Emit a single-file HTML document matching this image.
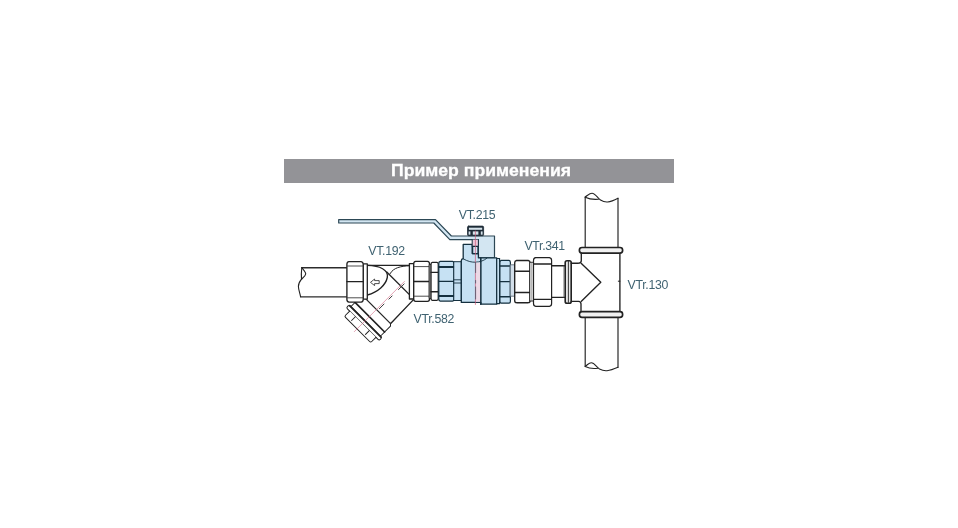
<!DOCTYPE html>
<html lang="ru">
<head>
<meta charset="utf-8">
<title>Пример применения</title>
<style>
html,body{margin:0;padding:0;background:#fff;}
body{width:958px;height:528px;overflow:hidden;position:relative;font-family:"Liberation Sans",sans-serif;}
#banner{will-change:transform;position:absolute;left:284px;top:159px;width:390px;height:24px;background:#939397;}
#banner span{position:absolute;left:107.1px;top:1.2px;-webkit-text-stroke:0.3px #fff;font-weight:bold;font-size:16.5px;line-height:20px;color:#fff;white-space:nowrap;transform:scaleX(1.068);transform-origin:0 0;}
svg{position:absolute;left:0;top:0;will-change:transform;}
.lbl{font-family:"Liberation Sans",sans-serif;font-size:12.3px;letter-spacing:-0.3px;fill:#3f6271;}
</style>
</head>
<body>
<div id="banner"><span>Пример применения</span></div>
<svg width="958" height="528" viewBox="0 0 958 528" fill="none" stroke="#222" stroke-width="1.35" stroke-linejoin="round" stroke-linecap="round">
<!-- SECTION: left pipe -->
<g id="leftpipe">
<path d="M301.8,267.7 H347 M300.6,296.8 H347" stroke="#2c2c2c"/>
<path d="M301.8,267.7 C303.8,270.2 305.9,272.2 305.7,274 C305.5,276 303.3,277.6 301.5,279.2 C299.6,281.6 298.3,283.8 298.4,286.6 C298.5,290 300,293.5 300.6,296.8" stroke-width="1.1"/>
<path d="M301.8,267.7 C301.3,271.5 301.2,275.5 301.5,279.2" stroke-width="1.1"/>
</g>
<!-- SECTION: strainer -->
<g id="strainer">
<!-- body top and curves -->
<path d="M367.3,265.3 H409.5" />
<path d="M409.5,265.8 C400,266 393.5,268.2 390.6,273 L389.6,274.3" stroke-width="1"/>
<!-- 45 degree branch -->
<g transform="translate(343.25,343.25) rotate(45)">
<path d="M-19.7,-81.2 H18.8 L19.6,-47.2 H-19.7" fill="#fff"/>
<path d="M-19.7,-47.2 H19.6 L21.3,-45.5 V-32.6 Q21.3,-31.1 19.8,-31.1 H-20.5 V-47.2" fill="#fff" stroke-width="1"/>
<path d="M-20.5,-37.2 H21.3" stroke-width="1.7"/>
<rect x="-23" y="-31.1" width="46.5" height="3.8" rx="1.6" fill="#fff" stroke-width="1"/>
<path d="M-22,-31.1 H22.5" stroke-width="1.8"/>
<path d="M-18.2,-27.3 V-21.4 Q-18.2,-19.9 -16.7,-19.9 H17.4 Q18.9,-19.9 18.9,-21.4 V-27.3" fill="#fff" stroke-width="1"/>
<path d="M-10.2,-27.3 V-22 M9.5,-27.3 V-22" stroke-width="1"/>
<path d="M-0.4,-87 V-16" stroke="#d4708a" stroke-width="0.6"/>
<path d="M1.1,-85 V-50" stroke="#333" stroke-width="0.9" stroke-dasharray="8 9 4.5 7 14 4"/>
</g>
<path d="M367.3,265.4 C380,265.6 388.8,270 387.3,277.5 C385.8,285 378,292 367.3,295"/>
<!-- left nut + flange -->
<rect x="363.2" y="263.8" width="4.1" height="35.4" fill="#fff" stroke-width="1.3"/>
<path d="M349,261.6 H361.2 Q363.2,262 363.2,264.2 V299.6 Q363.2,302 361.2,302.1 H349 Q346.9,302 346.9,299.6 V264.2 Q346.9,261.8 349,261.6 Z" fill="#fff"/>
<path d="M346.9,281.6 H363.2"/>
<path d="M347.4,266 H362.8 M347.4,297.8 H362.8" stroke-width="0.9" stroke="#3a3a3a"/>
<!-- right flange + nut -->
<rect x="409.4" y="263.6" width="4.3" height="35.4" fill="#fff" stroke-width="1.3"/>
<path d="M415.7,261.3 H427.5 Q429.5,261.6 429.5,263.8 V298.9 Q429.5,301.2 427.5,301.3 H415.7 Q413.7,301.2 413.7,298.9 V263.8 Q413.7,261.5 415.7,261.3 Z" fill="#fff"/>
<path d="M413.7,281.5 H429.5"/>
<path d="M414.2,266.6 H429 M414.2,296.2 H429" stroke-width="0.9" stroke="#3a3a3a"/>
<!-- flow arrow -->
<path d="M370.8,282.1 L374.6,279 V280.6 H379.2 V283.6 H374.6 V285.2 Z" stroke-width="0.8"/>
</g>
<!-- SECTION: valve -->
<g id="valve" stroke="#14303f">
<!-- neck between strainer nut and union -->
<rect x="429.5" y="264.5" width="1.6" height="34" fill="#fff" stroke="#222" stroke-width="0.8"/>
<!-- small white union nut -->
<path d="M432.4,262.3 H436.9 Q438.3,262.5 438.3,264.2 V298.4 Q438.3,300.2 436.9,300.3 H432.4 Q431,300.2 431,298.4 V264.2 Q431,262.4 432.4,262.3 Z" fill="#fff" stroke="#222"/>
<path d="M431,272.3 H438.3 M431,291.7 H438.3" stroke="#222"/>
<!-- blue hex left -->
<path d="M440.3,261.3 H452.6 Q454.1,261.5 454.1,263.3 V299.1 Q454.1,301 452.6,301.1 H440.3 Q438.8,301 438.8,299.1 V263.3 Q438.8,261.4 440.3,261.3 Z" fill="#c6e1f3" stroke-width="1.2"/>
<path d="M438.8,267 H454.1 M438.8,296 H454.1" stroke-width="1.8"/>
<path d="M438.8,281.4 H454.1" stroke-width="1.2"/>
<!-- blue section -->
<rect x="454.1" y="261.7" width="7.2" height="38.8" fill="#c6e1f3" stroke-width="1"/>
<path d="M454.1,279.8 H461.3 M454.1,283 H461.3" stroke-width="0.9"/>
<!-- handle -->
<path d="M338.7,219.6 H435.5 L451.4,236 H494.5 V257.6 H478.4 V239.6 H449.8 L433.8,223 H338.7 Z" fill="#d3e6f2" stroke="#2c4755" stroke-width="1.2"/>
<!-- housing + body -->
<path d="M461.3,302.4 V260.6 Q461.4,259 463.2,258.7 V244.4 H472.2 V253.6 H478.4 V257.8 H496.7 V304.2 H480.8 V302.4 Z" fill="#c6e1f3" stroke-width="1.3"/>
<path d="M480.8,258 V304.2" stroke-width="1.6"/>
<path d="M463.2,258.8 C468,261.6 472,262.3 475.5,262.2 C480,262.1 484,260.6 486.9,258.2" stroke-width="0.9"/>
<!-- stem -->
<rect x="472.2" y="239.7" width="6.2" height="6.6" fill="#ecc8da" stroke="none"/>
<rect x="472.6" y="246.3" width="5.4" height="7.3" fill="#d6e3f3" stroke-width="1.3"/>
<path d="M472.2,239.7 V246.3 M478.4,239.7 V246.3" stroke-width="1"/>
<!-- narrow ring -->
<rect x="496.7" y="258.5" width="2.9" height="45.1" fill="#c6e1f3" stroke-width="1.2"/>
<!-- blue hex right -->
<path d="M501.3,260.4 H509 Q510.4,260.6 510.4,262.4 V301.2 Q510.4,303.1 509,303.2 H501.3 Q499.9,303.1 499.9,301.2 V262.4 Q499.9,260.5 501.3,260.4 Z" fill="#c6e1f3" stroke-width="1.2"/>
<path d="M499.9,266 H510.4 M499.9,296.7 H510.4" stroke-width="1.5"/>
<path d="M499.9,281.7 H510.4" stroke-width="1.2"/>
<rect x="510.4" y="264.8" width="4.2" height="31.4" fill="#d3dfea" stroke="#50606c" stroke-width="0.8"/>
<!-- top nut -->
<rect x="467.5" y="226.1" width="16.1" height="9.6" rx="1.2" fill="#1d2b36" stroke="#1d2b36" stroke-width="0.8"/>
<rect x="468.9" y="227.7" width="13.3" height="2.1" fill="#d5e2ea" stroke="none"/>
<rect x="468.6" y="231.4" width="1.8" height="3.3" fill="#d5e2ea" stroke="none"/>
<rect x="472.8" y="231.4" width="5.6" height="3.3" fill="#d5e2ea" stroke="none"/>
<rect x="480.8" y="231.4" width="1.8" height="3.3" fill="#d5e2ea" stroke="none"/>
<!-- centre line -->
<rect x="475.7" y="262.6" width="4.4" height="39.2" fill="#ecd9e6" stroke="none"/>
<path d="M475.4,231 V304.5" stroke="#cf5a78" stroke-width="0.7"/>
<path d="M475.6,262.5 V302" stroke="#3a4c5c" stroke-width="0.7" stroke-dasharray="10 8 2.5 4 12 4"/>
</g>
<!-- SECTION: fitting -->
<g id="fitting">
<!-- white nut -->
<path d="M516.5,260.5 H528.3 Q530.1,260.8 530.1,262.8 V300.4 Q530.1,302.6 528.3,302.7 H516.5 Q514.7,302.6 514.7,300.4 V262.8 Q514.7,260.7 516.5,260.5 Z" fill="#fff"/>
<path d="M514.7,271.2 H530.1 M514.7,292.5 H530.1"/>
<rect x="530.1" y="262.3" width="3.4" height="38.7" fill="#fff" stroke-width="0.9"/>
<path d="M531.8,262.3 V301" stroke-width="0.6" stroke="#555"/>
<!-- large nut -->
<path d="M535.7,257.6 H549.4 Q551.6,258 551.6,260.4 V303.5 Q551.6,306.1 549.4,306.3 H535.7 Q533.5,306.1 533.5,303.5 V260.4 Q533.5,257.9 535.7,257.6 Z" fill="#fff" stroke-width="1.2"/>
<path d="M533.8,264 H551.3 M533.8,299.4 H551.3"/>
<!-- pipe section -->
<path d="M551.6,265.7 H565.2 M551.6,297.3 H565.2"/>
<path d="M563.8,265.7 V297.3" stroke-width="0.6" stroke="#555"/>
<!-- flange -->
<rect x="565.2" y="260.7" width="6" height="42.5" rx="1.8" fill="#e6e6e6" stroke-width="1.6"/>
<path d="M568.4,261.5 V302.4" stroke-width="0.9"/>
</g>
<!-- SECTION: tee -->
<g id="tee">
<!-- vertical pipe -->
<path d="M585.2,197 V247.5 M618,198.2 V247.5 M585.2,317.5 V366.3 M618,317.5 V367.3" stroke-width="1.15"/>
<path d="M585.2,197 C587.5,195.6 589.5,193.2 592,193.2 C595.5,193.2 597.5,198.2 600.5,200 C603,201.6 605.5,202.2 607.6,202 C611.5,201.6 615,199.8 618,198.2" stroke-width="1.1"/>
<path d="M585.2,197.2 C589,199 594,199.6 598.4,199.2" stroke-width="1.1"/>
<path d="M585.2,366.3 C587.5,364.9 589,362.8 591.3,362.8 C594.5,362.8 596.5,367.2 599.5,369 C602,370.4 604.8,370.9 607,370.7 C611,370.3 615,368.6 618,367.3" stroke-width="1.1"/>
<path d="M585.2,366.5 C589,368.4 593.5,368.8 597.8,368.2" stroke-width="1.1"/>
<!-- tee body -->
<path d="M571.2,263.2 H578.6 Q581.3,263 581.3,260.4 V253.2 M571.2,301.3 H578.6 Q581,301.5 581,304 V311.5 M619.9,253.2 V311.5"/>
<path d="M581.4,263.4 L600.8,282.2 L581.4,301.2"/>
<path d="M619.9,281.2 h-1.6" stroke-width="1"/>
<!-- collars -->
<rect x="579.4" y="247.5" width="43.2" height="5.7" rx="2.6" fill="#f1f1f1" stroke-width="1.7"/>
<rect x="579.4" y="311.7" width="43.2" height="5.7" rx="2.6" fill="#f1f1f1" stroke-width="1.7"/>
</g>
<!-- SECTION: labels -->
<g id="labels" stroke="none">
<text class="lbl" x="368.3" y="254.8">VT.192</text>
<text class="lbl" x="458.8" y="218.8">VT.215</text>
<text class="lbl" x="524.4" y="250.4">VTr.341</text>
<text class="lbl" x="413.5" y="322.9">VTr.582</text>
<text class="lbl" x="627.6" y="289.1">VTr.130</text>
</g>
</svg>
</body>
</html>
